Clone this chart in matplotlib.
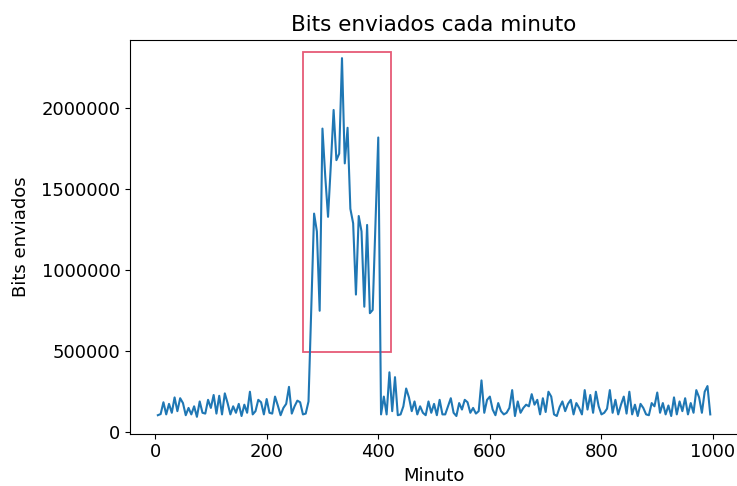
import matplotlib
matplotlib.use('Agg')
import matplotlib.pyplot as plt
from matplotlib.patches import Rectangle

plt.rcParams['font.size'] = 13

# minutes sampled every 5
minutos = list(range(5, 1000, 5))

# traffic before the burst (5..270)
bits_antes = [
    105000, 112000, 185000, 110000, 175000, 120000, 215000, 130000, 210000, 180000,
    105000, 150000, 110000, 160000, 95000, 190000, 120000, 115000, 200000, 150000,
    230000, 115000, 225000, 110000, 240000, 180000, 110000, 160000, 120000, 175000,
    100000, 170000, 120000, 250000, 110000, 130000, 200000, 185000, 110000, 205000,
    120000, 115000, 220000, 165000, 105000, 150000, 175000, 280000, 115000, 160000,
    195000, 185000, 110000, 115000,
]

# burst (275..430)
bits_pico = [
    190000, 760000, 1350000, 1240000, 750000, 1875000, 1580000, 1330000, 1650000, 1990000,
    1680000, 1720000, 2310000, 1660000, 1880000, 1380000, 1290000, 850000, 1335000, 1240000,
    775000, 1280000, 735000, 755000, 1290000, 1820000, 110000, 220000, 110000, 370000,
    130000, 340000,
]

# traffic after the burst (435..995)
bits_despues = [
    105000, 110000, 160000, 270000, 215000, 130000, 190000, 110000, 160000, 120000,
    105000, 190000, 120000, 175000, 105000, 200000, 110000, 110000, 160000, 210000,
    120000, 100000, 180000, 140000, 200000, 185000, 120000, 150000, 115000, 130000,
    320000, 120000, 200000, 220000, 140000, 105000, 180000, 130000, 110000, 120000,
    150000, 260000, 100000, 190000, 120000, 150000, 170000, 160000, 235000, 170000,
    200000, 110000, 210000, 125000, 250000, 220000, 110000, 100000, 155000, 190000,
    130000, 175000, 200000, 110000, 180000, 150000, 110000, 260000, 140000, 230000,
    120000, 250000, 160000, 110000, 120000, 145000, 260000, 120000, 200000, 110000,
    170000, 220000, 115000, 250000, 110000, 170000, 100000, 175000, 150000, 110000,
    105000, 180000, 160000, 245000, 120000, 180000, 110000, 165000, 100000, 215000,
    110000, 190000, 130000, 210000, 110000, 180000, 120000, 260000, 215000, 120000,
    250000, 285000, 110000,
]

bits = bits_antes + bits_pico + bits_despues

# highlighted window around the burst
ventana_x = (265, 423)
ventana_y = (495000, 2345000)

fig = plt.figure(figsize=(7.37, 4.86), dpi=100)
ax = fig.add_axes([0.1767, 0.108, 0.8245, 0.8107])

ax.plot(minutos, bits, color='#1f77b4', linewidth=1.5)
ax.add_patch(Rectangle((ventana_x[0], ventana_y[0]),
                       ventana_x[1] - ventana_x[0], ventana_y[1] - ventana_y[0],
                       fill=False, edgecolor='crimson', alpha=0.7, linewidth=1.3))

ax.set_ylim(-8000, 2425000)
ax.ticklabel_format(axis='y', style='plain')
ax.set_title('Bits enviados cada minuto', fontsize=15.5)
ax.set_xlabel('Minuto', labelpad=4.5)
ax.set_ylabel('Bits enviados', labelpad=8)

fig.savefig('out.png', dpi=100)
